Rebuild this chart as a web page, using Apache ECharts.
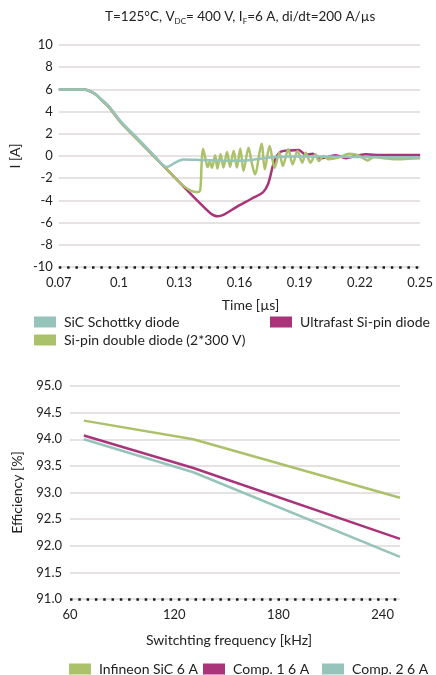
<!DOCTYPE html>
<html>
<head>
<meta charset="utf-8">
<script src="https://cdn.jsdelivr.net/npm/echarts@6/dist/echarts.min.js"></script>
<style>
  html, body { margin: 0; padding: 0; background: #fff; }
  #chart { width: 436px; height: 675px; }
</style>
</head>
<body>
<div id="chart"></div>
<script>
// top chart: reverse recovery current
var sicT = [0.07, 0.082, 0.085, 0.088, 0.091, 0.095, 0.101, 0.11, 0.118, 0.1238, 0.128, 0.132, 0.14, 0.15, 0.16, 0.168, 0.176, 0.185, 0.2, 0.22, 0.25];
var sicI = [6.0, 6.0, 5.9, 5.62, 5.15, 4.48, 3.1, 1.45, -0.05, -0.98, -0.6, -0.32, -0.35, -0.4, -0.42, -0.3, -0.12, -0.05, -0.05, -0.1, -0.12];

var ultraT = [0.07, 0.082, 0.085, 0.088, 0.091, 0.095, 0.101, 0.11, 0.12, 0.13, 0.14, 0.1455, 0.149, 0.1525, 0.158, 0.166, 0.1718, 0.1743, 0.1767, 0.1788, 0.1807, 0.185, 0.1895, 0.193, 0.1965, 0.2005, 0.204, 0.208, 0.213, 0.218, 0.223, 0.23, 0.24, 0.25];
var ultraI = [6.0, 6.0, 5.88, 5.58, 5.1, 4.4, 3.0, 1.35, -0.5, -2.35, -4.2, -5.15, -5.43, -5.25, -4.65, -3.85, -3.25, -2.5, -0.85, 0.05, 0.4, 0.5, 0.55, 0.1, 0.2, -0.2, -0.1, 0.07, -0.2, 0.0, 0.16, 0.08, 0.1, 0.1];

var pinT = [0.07, 0.082, 0.085, 0.088, 0.091, 0.095, 0.101, 0.11, 0.12, 0.127, 0.1315, 0.1345, 0.137, 0.1395, 0.1405, 0.1412, 0.1418, 0.143, 0.1441, 0.1452, 0.1463, 0.1479, 0.149, 0.1506, 0.152, 0.1538, 0.1553, 0.1571, 0.1587, 0.1604, 0.162, 0.1645, 0.1661, 0.1677, 0.171, 0.1726, 0.175, 0.1775, 0.1799, 0.1816, 0.1843, 0.1865, 0.1889, 0.1913, 0.193, 0.1954, 0.1978, 0.1995, 0.2019, 0.2043, 0.21, 0.2144, 0.2173, 0.2208, 0.2237, 0.2271, 0.232, 0.237, 0.244, 0.25];
var pinI = [6.0, 6.0, 5.88, 5.58, 5.1, 4.4, 3.0, 1.35, -0.5, -1.8, -2.6, -3.0, -3.2, -3.25, -3.0, -0.5, 0.65, -0.2, -1.0, -0.5, -1.05, 0.07, -1.13, 0.16, -1.04, 0.37, -0.98, 0.46, -1.04, 0.68, -1.35, 0.75, -0.6, -1.65, 1.1, -1.2, 0.9, -1.05, 0.3, -0.9, 0.6, -0.75, 0.45, -0.6, 0.3, -0.6, 0.15, -0.45, 0.0, -0.3, -0.1, 0.2, 0.15, -0.1, -0.4, -0.1, -0.2, -0.3, -0.25, -0.2];

// bottom chart: efficiency vs switching frequency
var freq = [68, 131, 250];
var infineonEff = [94.35, 94.0, 92.9];
var comp1Eff = [94.07, 93.46, 92.13];
var comp2Eff = [94.0, 93.38, 91.79];

var teal = '#97c4ba';
var magenta = '#a9347a';
var green = '#abc16a';
var font = 'Lato';

function pairs(xs, ys) {
  return xs.map(function (x, i) { return [x, ys[i]]; });
}

function legendAt(name, left, top) {
  return {
    data: [name], left: left, top: top, padding: 0, orient: 'horizontal',
    icon: 'rect', itemWidth: 22, itemHeight: 11,
    textStyle: { fontFamily: font, fontSize: 14, color: '#222', padding: [0, 0, 0, 3] },
    selectedMode: false
  };
}

var dotted = { type: [2.5, 5.8], cap: 'butt', width: 2.5, color: '#1a1a1a' };
var grid = { lineStyle: { color: '#e6e1e2', width: 2 } };

var myChart = echarts.init(document.getElementById('chart'));
var option = {
  animation: false,
  title: {
    left: 105, top: 8, padding: 0,
    text: '{a|T=125°C, V}{s|DC}{a|= 400 V, I}{s|F}{a|=6 A, di/dt=200 A/µs}',
    textStyle: {
      rich: {
        a: { fontFamily: font, fontSize: 13.5, fontWeight: 'normal', color: '#222', lineHeight: 18 },
        s: { fontFamily: font, fontSize: 8, fontWeight: 'normal', color: '#222', lineHeight: 18, padding: [8, 0, 0, 0] }
      }
    }
  },
  legend: [
    legendAt('SiC Schottky diode', 34, 315),
    legendAt('Ultrafast Si-pin diode', 270, 315),
    legendAt('Si-pin double diode (2*300 V)', 34, 333),
    legendAt('Infineon SiC 6 A', 69, 662),
    legendAt('Comp. 1 6 A', 203, 662),
    legendAt('Comp. 2 6 A', 322, 662)
  ],
  grid: [
    { left: 53, right: 14, top: 45, bottom: 408 },
    { left: 70, right: 36, top: 386, bottom: 76 }
  ],
  xAxis: [{
    gridIndex: 0, type: 'value', min: 0.07, max: 0.25, interval: 0.03,
    name: 'Time [µs]', nameLocation: 'middle', nameGap: 31,
    nameTextStyle: { fontFamily: font, fontSize: 14, color: '#222', padding: [0, 0, 0, 22] },
    axisLine: { onZero: false, lineStyle: dotted },
    axisTick: { show: false },
    splitLine: { show: false },
    axisLabel: {
      fontFamily: font, fontSize: 13, color: '#222', margin: 9,
      formatter: function (v) { return String(+v.toFixed(2)); }
    }
  }, {
    gridIndex: 1, type: 'value', min: 60, max: 250, interval: 60,
    name: 'Switchting frequency [kHz]', nameLocation: 'middle', nameGap: 34,
    nameTextStyle: { fontFamily: font, fontSize: 14, color: '#222', padding: [0, 12, 0, 0] },
    axisLine: { onZero: false, lineStyle: dotted },
    axisTick: { show: false },
    splitLine: { show: false },
    axisLabel: { fontFamily: font, fontSize: 13, color: '#222', margin: 9, showMaxLabel: false }
  }],
  yAxis: [{
    gridIndex: 0, type: 'value', min: -10, max: 10, interval: 2,
    name: 'I [A]', nameLocation: 'middle', nameGap: 30, nameRotate: 90,
    nameTextStyle: { fontFamily: font, fontSize: 14, color: '#222' },
    axisLine: { show: false }, axisTick: { show: false },
    splitLine: grid,
    axisLabel: { fontFamily: font, fontSize: 13, color: '#222', margin: 6 }
  }, {
    gridIndex: 1, type: 'value', min: 91, max: 95, interval: 0.5,
    name: 'Efficiency [%]', nameLocation: 'middle', nameGap: 46, nameRotate: 90,
    nameTextStyle: { fontFamily: font, fontSize: 14, color: '#222' },
    axisLine: { show: false }, axisTick: { show: false },
    splitLine: grid,
    axisLabel: {
      fontFamily: font, fontSize: 13, color: '#222', margin: 8,
      formatter: function (v) { return v.toFixed(1); }
    }
  }],
  series: [
    { name: 'Ultrafast Si-pin diode', type: 'line', xAxisIndex: 0, yAxisIndex: 0, data: pairs(ultraT, ultraI),
      smooth: 0.3, showSymbol: false, lineStyle: { color: magenta, width: 2.5 }, itemStyle: { color: magenta } },
    { name: 'Si-pin double diode (2*300 V)', type: 'line', xAxisIndex: 0, yAxisIndex: 0, data: pairs(pinT, pinI),
      smooth: 0.3, showSymbol: false, lineStyle: { color: green, width: 2.5 }, itemStyle: { color: green } },
    { name: 'SiC Schottky diode', type: 'line', xAxisIndex: 0, yAxisIndex: 0, data: pairs(sicT, sicI),
      smooth: 0.3, showSymbol: false, lineStyle: { color: teal, width: 2.5 }, itemStyle: { color: teal } },
    { name: 'Infineon SiC 6 A', type: 'line', xAxisIndex: 1, yAxisIndex: 1, data: pairs(freq, infineonEff),
      showSymbol: false, lineStyle: { color: green, width: 2.5 }, itemStyle: { color: green } },
    { name: 'Comp. 1 6 A', type: 'line', xAxisIndex: 1, yAxisIndex: 1, data: pairs(freq, comp1Eff),
      showSymbol: false, lineStyle: { color: magenta, width: 2.5 }, itemStyle: { color: magenta } },
    { name: 'Comp. 2 6 A', type: 'line', xAxisIndex: 1, yAxisIndex: 1, data: pairs(freq, comp2Eff),
      showSymbol: false, lineStyle: { color: teal, width: 2.5 }, itemStyle: { color: teal } }
  ]
};
myChart.setOption(option);
</script>
</body>
</html>
